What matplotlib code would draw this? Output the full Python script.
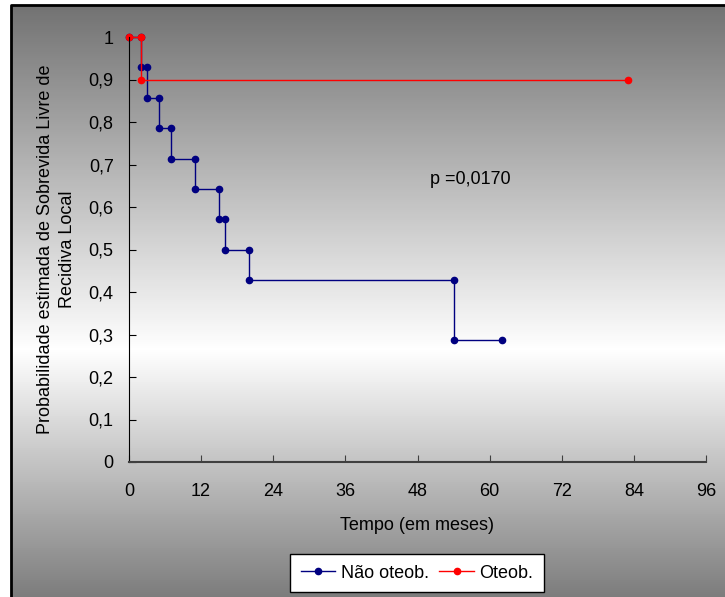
import numpy as np
import matplotlib
matplotlib.use("Agg")
import matplotlib.pyplot as plt
from matplotlib.lines import Line2D
from matplotlib.patches import Rectangle

plt.rcParams['font.family'] = ['Liberation Sans', 'DejaVu Sans']

# Kaplan-Meier step vertices (time in months, survival probability)
nao_t = [0, 2, 2, 3, 3, 5, 5, 7, 7, 11, 11, 15, 15, 16, 16, 20, 20, 54, 54, 62]
nao_s = [1, 1, 0.929, 0.929, 0.857, 0.857, 0.786, 0.786, 0.714, 0.714,
         0.643, 0.643, 0.571, 0.571, 0.5, 0.5, 0.429, 0.429, 0.286, 0.286]
oteob_t = [0, 2, 2, 83]
oteob_s = [1, 1, 0.9, 0.9]

x_ticks = [0, 12, 24, 36, 48, 60, 72, 84, 96]
y_ticks = [0, 0.1, 0.2, 0.3, 0.4, 0.5, 0.6, 0.7, 0.8, 0.9, 1]
y_labels = ['0', '0,1', '0,2', '0,3', '0,4', '0,5', '0,6', '0,7', '0,8', '0,9', '1']


def main():
    W, H = 725, 597
    fig = plt.figure(figsize=(W / 100, H / 100), dpi=100)
    fig.patch.set_facecolor('white')

    # gradient chart area (grey -> white -> grey), one strip per pixel row
    left = 12 / W
    for row in range(6, H, 2):
        g = float(np.interp(row + 1, [6, 350, H], [0x72, 0xff, 0x7c])) / 255.0
        fig.patches.append(Rectangle((left, 1 - (row + 2) / H), 1 - left, 2 / H,
                                     transform=fig.transFigure, facecolor=(g, g, g),
                                     edgecolor='none', linewidth=0, zorder=-20))
    fig.add_artist(Line2D([11 / W, 11 / W, 1], [0, 1 - 5 / H, 1 - 5 / H],
                          transform=fig.transFigure, color='black', linewidth=2))

    ax = fig.add_axes([129 / W, 1 - 462 / H, (706 - 129) / W, (462 - 37) / H])
    ax.set_facecolor('none')
    ax.plot(nao_t, nao_s, color='#000080', marker='o', markersize=4.5,
            linewidth=1, clip_on=False)
    ax.plot(oteob_t, oteob_s, color='#ff0000', marker='o', markersize=4.5,
            linewidth=1, clip_on=False)

    ax.set_xlim(0, 96)
    ax.set_ylim(0, 1)
    ax.set_xticks(x_ticks)
    ax.set_yticks(y_ticks)
    ax.set_yticklabels(y_labels)
    ax.tick_params(direction='in', length=5, labelsize=13, colors='black')
    ax.tick_params(axis='y', pad=11)
    ax.tick_params(axis='x', pad=15, color='#404040')
    ax.spines['top'].set_visible(False)
    ax.spines['right'].set_visible(False)
    ax.spines['left'].set_color('black')
    ax.spines['bottom'].set_color('#404040')
    ax.spines['bottom'].set_linewidth(1.5)

    ax.set_xlabel('Tempo (em meses)', fontsize=13, labelpad=12)
    ax.set_ylabel('Probabilidade estimada de Sobrevida Livre de\nRecidiva Local',
                  fontsize=13, labelpad=9, linespacing=1.4)

    ax.text(50, 0.665, 'p =0,0170', fontsize=13, va='center', ha='left')

    handles = [Line2D([], [], color='#000080', marker='o', markersize=4.5, linewidth=1),
               Line2D([], [], color='#ff0000', marker='o', markersize=4.5, linewidth=1)]
    leg = fig.legend(handles, ['Não oteob.', 'Oteob.'], loc='center',
                     bbox_to_anchor=(417 / W, 1 - 573 / H), ncol=2, fontsize=13,
                     frameon=True, fancybox=False, handlelength=1.9,
                     handletextpad=0.3, columnspacing=0.6, borderpad=0.6,
                     borderaxespad=0)
    leg.get_frame().set_edgecolor('black')
    leg.get_frame().set_facecolor('white')
    leg.get_frame().set_alpha(1)

    fig.savefig('out.png', dpi=100)


if __name__ == "__main__":
    main()
